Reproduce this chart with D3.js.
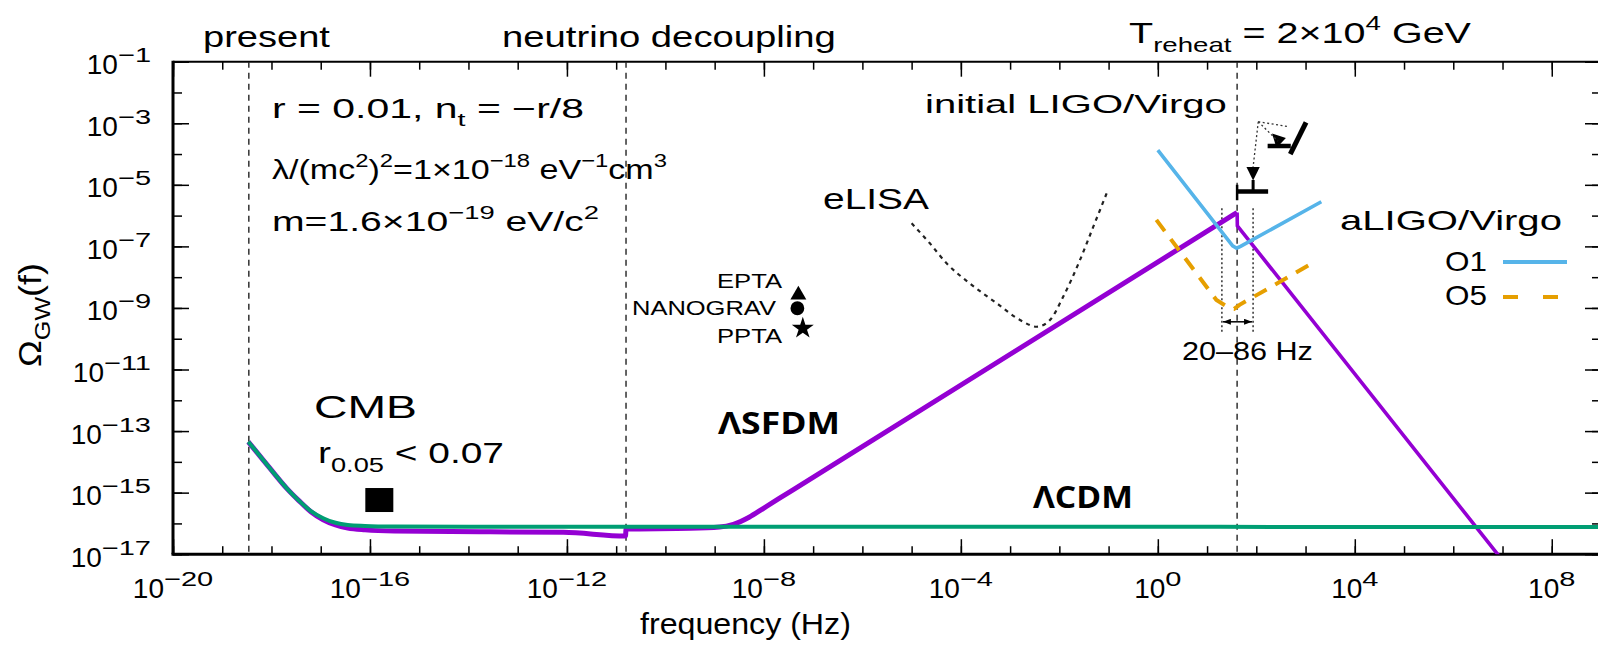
<!DOCTYPE html>
<html>
<head>
<meta charset="utf-8">
<script src="https://cdn.jsdelivr.net/npm/d3@7"></script>
<style>
  body { margin: 0; background: #fff; }
  svg { display: block; }
</style>
</head>
<body>
<script>
const width = 1598, height = 645

// axis decades (log10)
const xMajorExp = [-20, -16, -12, -8, -4, 0, 4, 8]
const xMinorExp = d3.range(-20, 10)
const yMajorExp = [-17, -15, -13, -11, -9, -7, -5, -3, -1]
const yMinorExp = d3.range(-17, 0)

// epochs marked with dashed verticals (log10 f)
const epochLogF = [-18.46, -10.80, 1.61]

// LambdaCDM spectrum (log10 f, log10 Omega)
const lcdmLogF = [-18.47, -18.25, -18.0, -17.69, -17.45, -17.2, -16.95, -16.7, -16.45, -16.1, -15.5, -14, -10, -5, 0, 5, 9]
const lcdmLogOmega = [-13.35, -13.78, -14.27, -14.86, -15.25, -15.6, -15.83, -15.98, -16.05, -16.08, -16.1, -16.11, -16.11, -16.11, -16.11, -16.12, -16.12]

// LambdaSFDM spectrum
const sfdmLogF = [-18.47, -18.25, -18.0, -17.69, -17.45, -17.2, -16.95, -16.7, -16.45, -16.1, -15.5, -13.77, -12.07, -10.81, -10.80, -9.5, -8.9, -8.62, -8.3, -8.0, -7.4, 1.61, 1.615, 6.95]
const sfdmLogOmega = [-13.35, -13.78, -14.27, -14.86, -15.25, -15.62, -15.88, -16.05, -16.15, -16.21, -16.25, -16.27, -16.29, -16.41, -16.18, -16.16, -16.12, -16.03, -15.8, -15.5, -14.9, -5.9, -6.33, -17.1]

// eLISA sensitivity
const elisaLogF = [-5.0, -4.63, -4.29, -3.82, -3.27, -2.80, -2.46, -2.19, -1.92, -1.58, -1.31, -1.04]
const elisaLogOmega = [-6.25, -6.90, -7.55, -8.20, -8.85, -9.39, -9.61, -9.39, -8.63, -7.44, -6.36, -5.28]

// aLIGO/Virgo O1 and O5
const o1LogF = [0, 1.52, 1.6, 1.68, 3.32]
const o1LogOmega = [-3.87, -6.98, -7.06, -7.0, -5.55]
const o5LogF = [-0.03, 1.19, 1.45, 1.55, 1.66, 3.19]
const o5LogOmega = [-6.14, -8.74, -9.0, -9.03, -8.9, -7.5]

// pulsar timing limits
const ptaNames = ['EPTA', 'NANOGRAV', 'PPTA']
const ptaLogF = [-7.30, -7.32, -7.21]
const ptaLogOmega = [-8.58, -9.01, -9.66]
const ptaSymbols = [d3.symbolTriangle, d3.symbolCircle, d3.symbolStar]

// CMB bound
const cmbLogF = -15.81, cmbLogOmega = -15.24

// LIGO band 20-86 Hz
const bandLogF = [Math.log10(20), Math.log10(86)]
const bandLogOmega = [-5.76, -9.82]
const bandArrowLogOmega = -9.45

// initial LIGO/Virgo upper limit glyphs
const limitBar = [[1.61, -5.22], [2.24, -5.22]]
const limitEnd = [[1.61, -5.0], [1.61, -5.5]]
const limitStem = [[1.935, -4.84], [1.935, -5.22]]
const limitHead = [[1.80, -4.42], [2.07, -4.42], [1.935, -4.86]]
const tiltBar = [[2.69, -4.0], [3.01, -2.97]]
const tiltStem = [[2.23, -3.74], [2.70, -3.74]]
const tiltHead = [[2.32, -3.33], [2.60, -3.48], [2.41, -3.80]]
const calloutFrom = [2.04, -2.95]
const calloutTo = [[1.935, -4.42], [2.65, -3.11], [2.44, -3.58]]

const x = d3.scaleLog().domain([1e-20, 1e9]).range([173, 1601])
const y = d3.scaleLog().domain([1e-17, 1e-1]).range([554.2, 61.7])
const px = e => x(10 ** e)
const py = e => y(10 ** e)

const svg = d3.select('body').append('svg')
    .attr('width', width)
    .attr('height', height)
    .attr('viewBox', [0, 0, width, height])

const defs = svg.append('defs')
defs.append('clipPath').attr('id', 'plot')
    .append('rect')
    .attr('x', x.range()[0]).attr('y', y.range()[1])
    .attr('width', x.range()[1] - x.range()[0])
    .attr('height', y.range()[0] - y.range()[1])
defs.append('marker')
    .attr('id', 'arrow')
    .attr('viewBox', '0 0 8 6')
    .attr('refX', 8).attr('refY', 3)
    .attr('markerWidth', 8).attr('markerHeight', 6)
    .attr('markerUnits', 'userSpaceOnUse')
    .attr('orient', 'auto-start-reverse')
    .append('path').attr('d', 'M0,0L8,3L0,6z').attr('fill', '#000')

// text made of pieces so that sub/superscripts can be placed and the whole stretched to width
function richText(parent, parts, o) {
    const size = o.size || 28
    const g = parent.append('g')
        .attr('font-family', o.family || 'Liberation Sans, Arial, sans-serif')
        .attr('font-weight', o.weight || 'normal')
        .attr('fill', '#000')
    let cursor = 0
    parts.forEach(([str, kind]) => {
        const small = kind === 'sup' || kind === 'sub'
        const sx = small ? (o.supScale || 1) : 1
        const dy = kind === 'sup' ? -0.43 * size : kind === 'sub' ? 0.3 * size : 0
        const t = g.append('text')
            .attr('font-size', small ? size * (o.supSize || 0.7) : size)
            .attr('transform', `translate(${cursor},${dy}) scale(${sx},1)`)
            .text(str.replace(/ /g, '\u00a0'))
        cursor += t.node().getComputedTextLength() * sx
    })
    const k = o.width ? o.width / cursor : 1
    const w = cursor * k
    const shift = o.anchor === 'end' ? -w : o.anchor === 'middle' ? -w / 2 : 0
    g.attr('transform', `translate(${o.x},${o.y}) rotate(${o.rotate || 0}) translate(${shift},0) scale(${k},1)`)
    return g
}

// ticks via d3 axes (labels drawn separately)
function ticks(axis, values, size, transform) {
    svg.append('g')
        .attr('transform', transform)
        .call(axis.tickValues(values.map(e => 10 ** e)).tickSizeInner(size).tickSizeOuter(0).tickFormat(''))
        .call(g => g.select('.domain').remove())
        .call(g => g.selectAll('line').attr('stroke', '#000').attr('stroke-width', 1.5))
}
const [x0, x1] = x.range(), [y1, y0] = y.range()
ticks(d3.axisBottom(x), xMinorExp, -8, `translate(0,${y1})`)
ticks(d3.axisBottom(x), xMajorExp, -15, `translate(0,${y1})`)
ticks(d3.axisTop(x), xMinorExp, -8, `translate(0,${y0})`)
ticks(d3.axisTop(x), xMajorExp, -15, `translate(0,${y0})`)
ticks(d3.axisLeft(y), yMinorExp, -9, `translate(${x0},0)`)
ticks(d3.axisLeft(y), yMajorExp, -16, `translate(${x0},0)`)
ticks(d3.axisRight(y), yMinorExp, -9, `translate(${x1},0)`)
ticks(d3.axisRight(y), yMajorExp, -16, `translate(${x1},0)`)

// frame
svg.append('line').attr('x1', x0).attr('x2', x1).attr('y1', y0).attr('y2', y0).attr('stroke', '#000').attr('stroke-width', 2)
svg.append('line').attr('x1', x0 - 1.5).attr('x2', x1).attr('y1', y1).attr('y2', y1).attr('stroke', '#000').attr('stroke-width', 3)
svg.append('line').attr('x1', x0).attr('x2', x0).attr('y1', y0 - 1).attr('y2', y1).attr('stroke', '#000').attr('stroke-width', 3)
svg.append('line').attr('x1', x1).attr('x2', x1).attr('y1', y0).attr('y2', y1).attr('stroke', '#000').attr('stroke-width', 2)

// tick labels
const sup = e => (e < 0 ? '\u2212' + (-e) : String(e))
yMajorExp.forEach(e => richText(svg, [['10'], [sup(e), 'sup']], { x: 151, y: py(e) + 12.5, size: 28, anchor: 'end', supScale: 1.4, supSize: 0.74 }))
xMajorExp.forEach(e => richText(svg, [['10'], [sup(e), 'sup']], { x: px(e), y: 598, size: 28, anchor: 'middle', supScale: 1.4, supSize: 0.74 }))

// axis titles
richText(svg, [['frequency (Hz)']], { x: 640, y: 634, size: 29, width: 211 })
richText(svg, [['\u03a9'], ['GW', 'sub'], ['(f)']], { x: 41, y: 367, size: 31, width: 104, rotate: -90 })

const plot = svg.append('g').attr('clip-path', 'url(#plot)')

// epoch lines
plot.selectAll('line.epoch')
    .data(epochLogF)
    .join('line')
    .attr('class', 'epoch')
    .attr('x1', d => px(d)).attr('x2', d => px(d))
    .attr('y1', y0).attr('y2', y1)
    .attr('stroke', '#222').attr('stroke-width', 1.4)
    .attr('stroke-dasharray', '6,5')

// 20-86 Hz band
plot.selectAll('line.band')
    .data(bandLogF)
    .join('line')
    .attr('class', 'band')
    .attr('x1', d => px(d)).attr('x2', d => px(d))
    .attr('y1', py(bandLogOmega[0])).attr('y2', py(bandLogOmega[1]))
    .attr('stroke', '#222').attr('stroke-width', 1.4)
    .attr('stroke-dasharray', '2,2.5')
plot.append('line')
    .attr('x1', px(bandLogF[0]) + 1).attr('x2', px(bandLogF[1]) - 1)
    .attr('y1', py(bandArrowLogOmega)).attr('y2', py(bandArrowLogOmega))
    .attr('stroke', '#000').attr('stroke-width', 1.5)
    .attr('marker-start', 'url(#arrow)').attr('marker-end', 'url(#arrow)')

const line = d3.line().x(d => px(d[0])).y(d => py(d[1]))

// eLISA
plot.append('path')
    .attr('d', line.curve(d3.curveMonotoneX)(d3.zip(elisaLogF, elisaLogOmega)))
    .attr('fill', 'none').attr('stroke', '#222').attr('stroke-width', 2.2)
    .attr('stroke-dasharray', '4,4.5')

// LambdaSFDM: rise drawn heavier than the fall after reheating
const sfdm = d3.zip(sfdmLogF, sfdmLogOmega)
const peak = d3.maxIndex(sfdmLogOmega)
plot.append('path')
    .attr('d', line.curve(d3.curveMonotoneX)(sfdm.slice(0, peak + 1)))
    .attr('fill', 'none').attr('stroke', '#9400d3').attr('stroke-width', 5)
plot.append('path')
    .attr('d', line.curve(d3.curveLinear)(sfdm.slice(peak)))
    .attr('fill', 'none').attr('stroke', '#9400d3').attr('stroke-width', 3.6)

// LambdaCDM
plot.append('path')
    .attr('d', line.curve(d3.curveMonotoneX)(d3.zip(lcdmLogF, lcdmLogOmega)))
    .attr('fill', 'none').attr('stroke', '#009e73').attr('stroke-width', 4)

// aLIGO O5 and O1
plot.append('path')
    .attr('d', line.curve(d3.curveLinear)(d3.zip(o5LogF, o5LogOmega)))
    .attr('fill', 'none').attr('stroke', '#e69f00').attr('stroke-width', 4)
    .attr('stroke-dasharray', '14,10')
plot.append('path')
    .attr('d', line.curve(d3.curveLinear)(d3.zip(o1LogF, o1LogOmega)))
    .attr('fill', 'none').attr('stroke', '#56b4e9').attr('stroke-width', 3.6)

// initial LIGO/Virgo limits
const seg = (pts, w) => plot.append('path')
    .attr('d', line.curve(d3.curveLinear)(pts))
    .attr('fill', 'none').attr('stroke', '#000').attr('stroke-width', w)
seg(limitBar, 4.5)
seg(limitEnd, 2.5)
seg(limitStem, 3)
seg(tiltBar, 5)
seg(tiltStem, 4.5)
plot.append('path').attr('d', line(limitHead) + 'Z').attr('fill', '#000')
plot.append('path').attr('d', line(tiltHead) + 'Z').attr('fill', '#000')
calloutTo.forEach(p => seg([calloutFrom, p], 1.3).attr('stroke', '#333').attr('stroke-dasharray', '2,2.5'))

// CMB bound
plot.append('rect')
    .attr('x', px(cmbLogF) - 14).attr('y', py(cmbLogOmega) - 12)
    .attr('width', 28).attr('height', 24)
    .attr('fill', '#000')

// pulsar timing arrays
plot.selectAll('path.pta')
    .data(ptaNames)
    .join('path')
    .attr('class', 'pta')
    .attr('transform', (d, i) => `translate(${px(ptaLogF[i])},${py(ptaLogOmega[i])})`)
    .attr('d', (d, i) => d3.symbol(ptaSymbols[i], [110, 150, 150][i])())
    .attr('fill', '#000')

// legend
const legend = svg.append('g')
legend.append('line').attr('x1', 1503).attr('x2', 1567).attr('y1', 262).attr('y2', 262)
    .attr('stroke', '#56b4e9').attr('stroke-width', 4)
legend.append('line').attr('x1', 1503).attr('x2', 1567).attr('y1', 297).attr('y2', 297)
    .attr('stroke', '#e69f00').attr('stroke-width', 4).attr('stroke-dasharray', '15,25')

// annotations
const notes = [
    { parts: [['present']], x: 203, y: 47, size: 29, width: 127 },
    { parts: [['neutrino decoupling']], x: 502, y: 47, size: 29, width: 334 },
    { parts: [['T'], ['reheat', 'sub'], [' = 2\u00d710'], ['4', 'sup'], [' GeV']], x: 1129, y: 43, size: 30, width: 342 },
    { parts: [['r = 0.01, n'], ['t', 'sub'], [' = \u2212r/8']], x: 272, y: 118, size: 27, width: 312 },
    { parts: [['\u03bb/(mc'], ['2', 'sup'], [')'], ['2', 'sup'], ['=1\u00d710'], ['\u221218', 'sup'], [' eV'], ['\u22121', 'sup'], ['cm'], ['3', 'sup']], x: 272, y: 179, size: 27, width: 395 },
    { parts: [['m=1.6\u00d710'], ['\u221219', 'sup'], [' eV/c'], ['2', 'sup']], x: 272, y: 231, size: 27, width: 327 },
    { parts: [['initial LIGO/Virgo']], x: 925, y: 113, size: 26, width: 302 },
    { parts: [['eLISA']], x: 823, y: 209, size: 29, width: 106 },
    { parts: [['aLIGO/Virgo']], x: 1340, y: 230, size: 27, width: 222 },
    { parts: [['O1']], x: 1445, y: 271, size: 28, width: 42 },
    { parts: [['O5']], x: 1445, y: 305, size: 28, width: 42 },
    { parts: [['20\u201386 Hz']], x: 1182, y: 360, size: 26, width: 131 },
    { parts: [['CMB']], x: 314, y: 418, size: 32, width: 103 },
    { parts: [['r'], ['0.05', 'sub'], [' < 0.07']], x: 318, y: 463, size: 30, width: 186 },
    { parts: [['\u039bSFDM']], x: 718, y: 434, size: 31, width: 122, weight: 700, family: 'Open Sans, DejaVu Sans, sans-serif' },
    { parts: [['\u039bCDM']], x: 1033, y: 508, size: 30, width: 100, weight: 700, family: 'Open Sans, DejaVu Sans, sans-serif' },
    { parts: [[ptaNames[0]]], x: 782, y: 288, size: 21, width: 65, anchor: 'end' },
    { parts: [[ptaNames[1]]], x: 776, y: 315, size: 21, width: 144, anchor: 'end' },
    { parts: [[ptaNames[2]]], x: 782, y: 343, size: 21, width: 65, anchor: 'end' },
]
notes.forEach(n => richText(svg, n.parts, n))
</script>
</body>
</html>
